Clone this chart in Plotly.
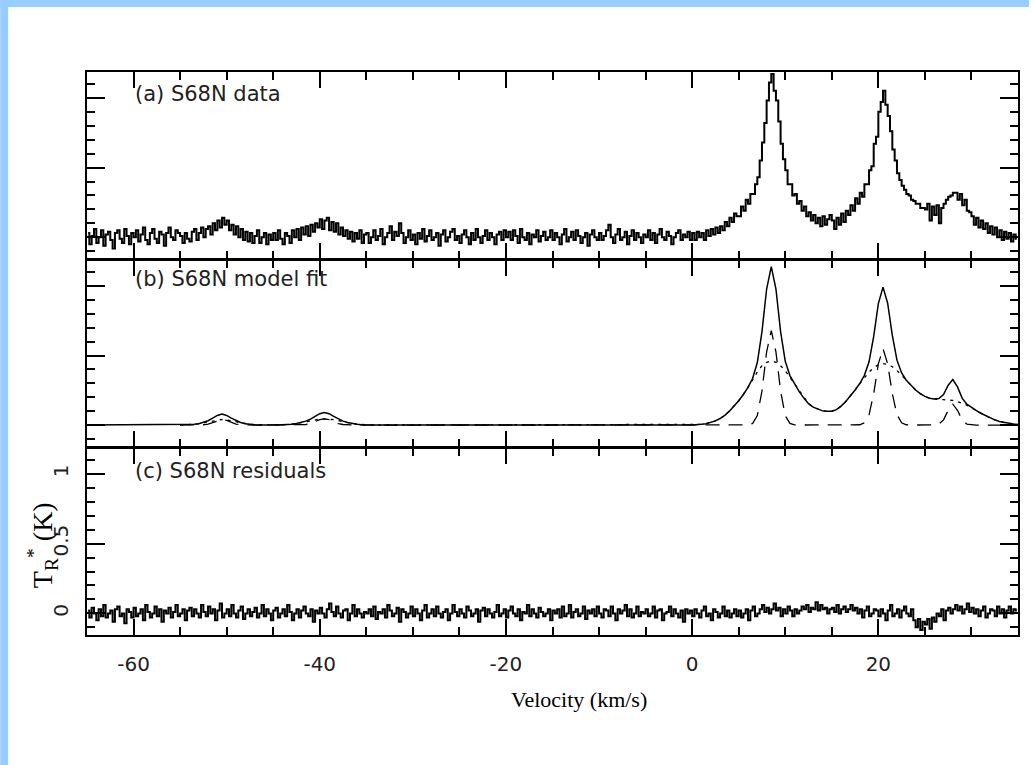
import numpy as np
import plotly.graph_objects as go
from plotly.subplots import make_subplots

# axis ranges and tick labels
vel_range = [-65, 35]
temp_range = [-0.155, 1.185]
x_tick_vals = [-60, -40, -20, 0, 20]
x_tick_text = ["-60", "-40", "-20", "0", "20"]
y_tick_vals = [0, 0.5, 1]
y_tick_text = ["0", "0.5", "1"]

panel_labels = ["(a) S68N data", "(b) S68N model fit", "(c) S68N residuals"]

# observed spectrum, 0.25 km/s channels from -65 km/s, units of 0.01 K (one row = 5 km/s)
data_ck = [
    3, -5, 1, 6, -4, 0, 5, -6, 2, 4, -2, -8, 3, 5, -1, -4, 6, 1, -5, 3,
    0, 5, -3, 2, 7, -2, -5, 3, 6, -1, -4, 4, 2, -6, 3, 7, 0, -2, 5, 3,
    1, -4, 3, -1, -3, 4, 6, -2, 3, 7, 0, 6, 8, 2, 10, 5, 12, 7, 14, 9,
    12, 5, 9, 2, 8, 0, 6, -2, 4, -3, 3, -4, 1, 5, -4, 0, 3, -5, 2, -2,
    3, -2, 5, -1, -5, 3, 1, -4, 5, 0, 6, -2, 7, 2, 8, 1, 9, 4, 10, 7,
    13, 6, 12, 14, 5, 11, 4, 10, 2, 7, 1, 5, -1, 4, -3, 3, -1, 5, -4, 2,
    3, -4, 0, 5, -2, 1, 6, -5, 0, 3, 8, -2, 4, 1, 10, 3, -4, 0, 5, -2,
    2, -5, 3, -1, 6, -3, 1, 5, -2, 0, 3, -6, 2, 5, -3, 0, 4, 6, -2, 1,
    -4, 2, 5, 0, -5, 3, -2, 6, 0, -4, 1, 5, -2, 3, 0, -5, 2, 4, -2, 5,
    0, 4, -2, 5, 1, -4, 6, 0, -2, 3, -5, 2, 0, 5, -3, 1, 4, -2, 0, 5,
    -2, 3, 0, -5, 2, 6, -3, 0, 4, -2, 5, 1, -4, 0, 3, -6, 2, 5, 0, -2,
    3, -2, 1, 5, 9, 0, -4, 2, 6, -2, 0, 4, -5, 1, 5, -2, 3, 0, -4, 2,
    0, 5, -2, 3, -4, 2, 6, 0, -2, 4, 1, -5, 0, 3, 5, -2, 2, 0, 4, -2,
    3, -2, 4, 0, 3, -2, 5, 1, 6, 2, 7, 3, 8, 5, 11, 8, 14, 11, 17, 15,
    15, 22, 19, 27, 24, 31, 31, 38, 43, 55, 68, 82, 98, 111, 117, 105, 98, 83, 67, 56,
    48, 38, 38, 30, 31, 24, 26, 19, 22, 15, 18, 12, 16, 10, 14, 8, 15, 9, 13, 16,
    12, 6, 14, 9, 17, 11, 19, 16, 23, 19, 28, 24, 32, 29, 38, 38, 48, 51, 67, 72,
    90, 97, 105, 95, 87, 76, 63, 55, 46, 41, 37, 34, 31, 30, 27, 26, 24, 24, 21, 21,
    20, 24, 12, 22, 16, 23, 10, 21, 24, 27, 29, 30, 32, 32, 27, 31, 23, 27, 19, 18,
    15, 9, 14, 7, 12, 6, 10, 3, 8, 2, 7, 0, 5, -2, 4, -1, 3, -3, 2, -1,
]

# residuals (data - model), same channels, units of 0.01 K
resid_ck = [
    2, -3, 4, 0, -5, 3, -2, 6, -3, 0, 2, -6, 3, 5, -2, 0, -7, 3, 1, -3,
    4, -2, 0, 3, -5, 6, 1, -3, 0, 5, -2, 3, -6, 2, 0, 4, -3, 1, 6, -2,
    0, 3, -5, 2, 4, -2, 3, 0, -3, 6, 1, -2, 5, 0, 3, -5, 2, 7, -3, 0,
    3, -2, 6, 0, -3, 2, 5, -4, 0, 3, -2, 1, 4, -3, 0, 6, -2, 3, 0, -5,
    2, 4, -3, 0, 3, -2, 6, 1, -5, 0, 3, -3, 2, 5, 0, -2, 3, -6, 2, 0,
    4, 0, -3, 3, 7, 1, -2, 5, 0, -3, 2, 3, -5, 0, 6, -2, 3, 0, -3, 1,
    0, 3, -2, 5, -4, 1, 0, 3, -3, 6, 2, -2, 0, 4, -6, 3, 1, -3, 0, 5,
    -2, 3, 0, -5, 2, 6, -3, 0, 3, -2, 5, 0, -3, 1, 3, -5, 0, 6, 1, -2,
    3, 0, -3, 5, 2, -2, 0, 3, -6, 2, 4, -2, 3, 0, -3, 1, 6, -2, 0, 3,
    -3, 2, 5, 0, -2, 3, -5, 1, 0, 6, -2, 3, 0, -3, 4, 1, -2, 0, 3, -5,
    2, 0, 3, -3, 5, -2, 0, 6, -3, 1, 3, -2, 0, 5, -4, 2, 0, 3, -2, 5,
    0, -3, 3, 2, -2, 5, 0, -5, 3, 0, 2, 6, -2, 3, -3, 0, 5, -2, 1, 0,
    3, -2, 0, 5, -3, 2, 3, -5, 0, 1, 5, -2, 3, 0, -3, 2, -6, 3, 0, 2,
    -2, 3, 0, -3, 2, 5, -2, 0, -5, 3, 1, -3, 0, 5, -2, 2, -3, 0, 3, -2,
    2, -3, 0, 3, -5, 2, 5, -2, 0, 3, 6, 1, 4, 0, 3, 7, 2, 4, -2, 3,
    0, 5, 2, -2, 3, 0, 2, 5, 3, 6, 1, 4, 3, 8, 2, 6, 3, 4, 0, 3,
    4, 1, 6, 0, 3, 5, 1, 3, 6, 2, 4, 0, 3, -3, 2, 5, -2, 0, 3, 2,
    -2, 3, 0, -5, 2, 6, -2, 0, 3, -3, 2, 5, 0, -2, 3, -5, -10, -4, -12, -6,
    -8, -4, -11, -3, -6, 0, -2, 3, -5, 2, 4, 0, 3, 6, 2, 5, 0, 3, 7, 1,
    4, 0, 3, -2, 2, 5, -3, 0, 3, 2, -2, 5, 0, 3, -3, 2, 5, 0, 3, 2,
]

# model fit (K), sampled every 0.5 km/s: weak features -55..-34, main lines 0..35
fit_total_low = [
    0, .001, .002, .005, .010, .018, .031, .050, .069, .080,
    .069, .050, .031, .018, .010, .005, .002, .001, 0, 0,
    0, .001, .002, .003, .006, .011, .018, .028, .043, .063,
    .082, .090, .082, .063, .043, .028, .018, .011, .006, .003,
    .002, .001, 0,
]
fit_narrow_low = [
    0, 0, 0, 0, 0, .002, .007, .018, .033, .040,
    .033, .018, .007, .002, 0, 0, 0, 0, 0, 0,
    0, 0, 0, 0, 0, 0, .001, .004, .011, .024,
    .039, .045, .039, .024, .011, .004, .001, 0, 0, 0,
    0, 0, 0,
]
fit_broad_low = [
    0, .001, .002, .005, .010, .016, .024, .032, .036, .040,
    .036, .032, .024, .016, .010, .005, .002, .001, 0, 0,
    0, .001, .002, .003, .006, .011, .017, .024, .032, .039,
    .043, .045, .043, .039, .032, .024, .017, .011, .006, .003,
    .002, .001, 0,
]
fit_total_high = [
    0, .001, .005, .010, .018, .030, .047, .070, .100, .135, .175, .220,
    .271, .337, .450, .672, .979, 1.140, .979, .672, .459, .356, .294,
    .241, .194, .154, .129, .113, .102, .100, .100, .111, .136, .169, .207, .252,
    .299, .358, .455, .639, .874, .993, .877, .646, .467, .375, .323,
    .285, .252, .226, .206, .193,
    .188, .191, .220, .287, .327, .275, .194, .150, .125,
    .105, .085, .067, .051, .037, .026, .018, .012, .007, .004,
]
fit_narrow_high = [
    0, 0, 0, 0, 0, 0, 0, 0, 0, 0, 0, 0,
    .001, .012, .068, .245, .527, .680, .527, .245, .068, .012, .001,
    0, 0, 0, 0, 0, 0, 0, 0, 0, 0, 0, 0, 0,
    .002, .016, .074, .226, .440, .550, .440, .226, .074, .016, .002,
    0, 0, 0, 0, 0,
    .001, .007, .037, .106, .150, .106, .037, .007, .001,
    0, 0, 0, 0, 0, 0, 0, 0, 0, 0,
]
fit_broad_high = [
    0, .001, .005, .010, .018, .030, .047, .070, .100, .135, .175, .220,
    .270, .325, .382, .427, .452, .460, .452, .427, .391, .344, .293,
    .241, .194, .154, .129, .113, .102, .100, .100, .111, .136, .169, .207, .252,
    .297, .342, .381, .413, .434, .443, .437, .420, .393, .359, .321,
    .285, .252, .226, .206, .193,
    .187, .184, .183, .181, .177, .169, .157, .143, .124,
    .105, .085, .067, .051, .037, .026, .018, .012, .007, .004,
]

# channel / sample velocities
chan_vel = -64.875 + 0.25 * np.arange(len(data_ck))
fit_vel_low = np.arange(-55, -33.75, 0.5)
fit_vel_high = np.arange(0, 35.25, 0.5)

data_k = np.array(data_ck) / 100
resid_k = np.array(resid_ck) / 100
fit_vel = np.concatenate([fit_vel_low, fit_vel_high])

W, H = 1031, 765
ml, mr, mt, mb = 87, 11, 72, 130
pw, ph = W - ml - mr, H - mt - mb

fig = make_subplots(rows=3, cols=1, shared_xaxes=True, vertical_spacing=0)

fig.add_trace(go.Scatter(x=chan_vel, y=data_k, mode="lines",
                         line=dict(color="black", width=2, shape="hvh")), row=1, col=1)

fig.add_trace(go.Scatter(x=fit_vel, y=fit_broad_low + fit_broad_high, mode="lines",
                         line=dict(color="black", width=1.3, dash="3px,5px")), row=2, col=1)
fig.add_trace(go.Scatter(x=fit_vel, y=fit_narrow_low + fit_narrow_high, mode="lines",
                         line=dict(color="black", width=1.3, dash="14px,9px")), row=2, col=1)
fig.add_trace(go.Scatter(x=np.concatenate([[vel_range[0]], fit_vel]),
                         y=[0] + fit_total_low + fit_total_high, mode="lines",
                         line=dict(color="black", width=1.5)), row=2, col=1)

fig.add_trace(go.Scatter(x=chan_vel, y=resid_k, mode="lines",
                         line=dict(color="black", width=2, shape="hvh")), row=3, col=1)

tick_font = dict(family="DejaVu Sans", size=20, color="#222")
# leave a gap of one frame width between panels so the two edge lines coincide
g = 0.75 / ph
domains = {1: [2 / 3 + g, 1], 2: [1 / 3 + g, 2 / 3 - g], 3: [0, 1 / 3 - g]}
for r in (1, 2, 3):
    fig.update_xaxes(range=vel_range, showgrid=False, zeroline=False,
                     showline=True, linecolor="black", linewidth=1.5, mirror="ticks",
                     ticks="inside", ticklen=16, tickwidth=1.5, tickcolor="black",
                     tickmode="array", tickvals=x_tick_vals, ticktext=x_tick_text,
                     tickfont=tick_font, ticklabelstandoff=10,
                     minor=dict(ticks="inside", ticklen=8, tickwidth=1.5, tickcolor="black",
                                tick0=0, dtick=5, showgrid=False),
                     row=r, col=1)
    fig.update_yaxes(range=temp_range, domain=domains[r], showgrid=False, zeroline=False,
                     showline=True, linecolor="black", linewidth=1.5, mirror="ticks",
                     ticks="inside", ticklen=18, tickwidth=1.5, tickcolor="black",
                     tickmode="array", tickvals=y_tick_vals, ticktext=y_tick_text,
                     tickfont=tick_font, tickangle=-90, ticklabelstandoff=9,
                     showticklabels=(r == 3),
                     minor=dict(ticks="inside", ticklen=8, tickwidth=1.5, tickcolor="black",
                                tick0=0, dtick=0.1, showgrid=False),
                     row=r, col=1)

for i, (label, ypos) in enumerate(zip(panel_labels, [0.88, 0.9, 0.88])):
    ax = "" if i == 0 else str(i + 1)
    fig.add_annotation(text=label, xref=f"x{ax} domain", yref=f"y{ax} domain",
                       x=0.049, y=ypos, xanchor="left", yanchor="middle", showarrow=False,
                       font=dict(family="DejaVu Sans", size=21, color="#222"))

fig.add_annotation(text="Velocity (km/s)", xref="paper", yref="paper", x=0.529, y=-0.115,
                   xanchor="center", yanchor="middle", showarrow=False,
                   font=dict(family="Liberation Serif", size=22, color="black"))
fig.add_annotation(text="T<sub>R</sub><sup>*</sup> (K)", xref="paper", yref="paper",
                   x=-0.047, y=0.16, textangle=-90, xanchor="center", yanchor="middle",
                   showarrow=False, font=dict(family="Liberation Serif", size=28, color="black"))

# light blue page border on the left and top
fig.add_shape(type="rect", xref="paper", yref="paper", layer="below",
              x0=-ml / pw, x1=(8 - ml) / pw, y0=-mb / ph, y1=1 + mt / ph,
              fillcolor="#99ccff", line_width=0)
fig.add_shape(type="rect", xref="paper", yref="paper", layer="below",
              x0=-ml / pw, x1=1 + mr / pw, y0=1 + (mt - 7) / ph, y1=1 + mt / ph,
              fillcolor="#99ccff", line_width=0)

fig.update_layout(width=W, height=H, margin=dict(l=ml, r=mr, t=mt, b=mb),
                  showlegend=False, plot_bgcolor="white", paper_bgcolor="white")

fig.write_html("out.html", config={"displayModeBar": False},
               post_script="document.body.style.margin='0';")
